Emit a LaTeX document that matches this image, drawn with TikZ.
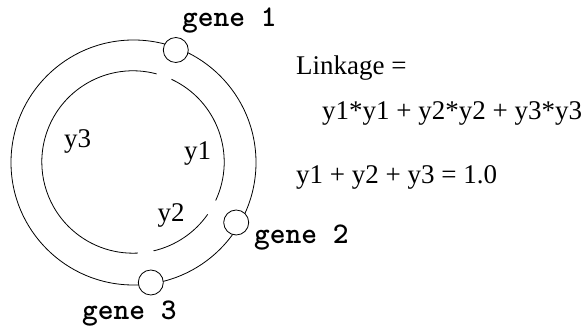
\documentclass[tikz,border=0pt]{standalone}
\usepackage{fontspec}
\setmainfont{Liberation Serif}
\begin{document}
\begin{tikzpicture}[x=1pt,y=1pt,
  ring/.style={line width=0.8pt},
  genedot/.style={circle,draw,fill=white,line width=0.8pt,minimum size=25pt,inner sep=0pt},
  genelabel/.style={anchor=base west,inner sep=0pt,font=\ttfamily\bfseries\fontsize{30}{34}\selectfont},
  txt/.style={anchor=base west,inner sep=0pt,font=\fontsize{27}{32}\selectfont}]
\useasboundingbox (0,0) rectangle (587,335);
\coordinate (oc) at (133.5,172.5);
\coordinate (ic) at (133,173);
\draw[ring] (oc) circle[radius=122.5];
% inner arcs
\draw[ring] ([shift={(-25:91.2)}]ic) arc[start angle=-25,end angle=65,radius=91.2];
\draw[ring] ([shift={(75:91.2)}]ic) arc[start angle=75,end angle=273,radius=91.2];
\draw[ring] ([shift={(-77:91.2)}]ic) arc[start angle=-77,end angle=-35,radius=91.2];
% genes
\node[genedot] (g1) at (175.8,285) {};
\node[genedot] (g2) at (236.2,112.5) {};
\node[genedot] (g3) at (150.8,52.5) {};
\node[genelabel] (l1) at (182,308) {gene 1};
\node[genelabel] (l2) at (254,91.7) {gene 2};
\node[genelabel] (l3) at (82,15) {gene 3};
% segment labels
\node[txt] (y3) at (64,187.3) {y3};
\node[txt] (y1) at (184,175) {y1};
\node[txt] (y2) at (157.5,113.3) {y2};
% formulas
\node[txt] (link) at (296,260) {Linkage =};
\node[txt] (sq) at (322,215) {y1*y1 + y2*y2 + y3*y3};
\node[txt] (sum) at (296,151.7) {y1 + y2 + y3 = 1.0};
\end{tikzpicture}
\end{document}
